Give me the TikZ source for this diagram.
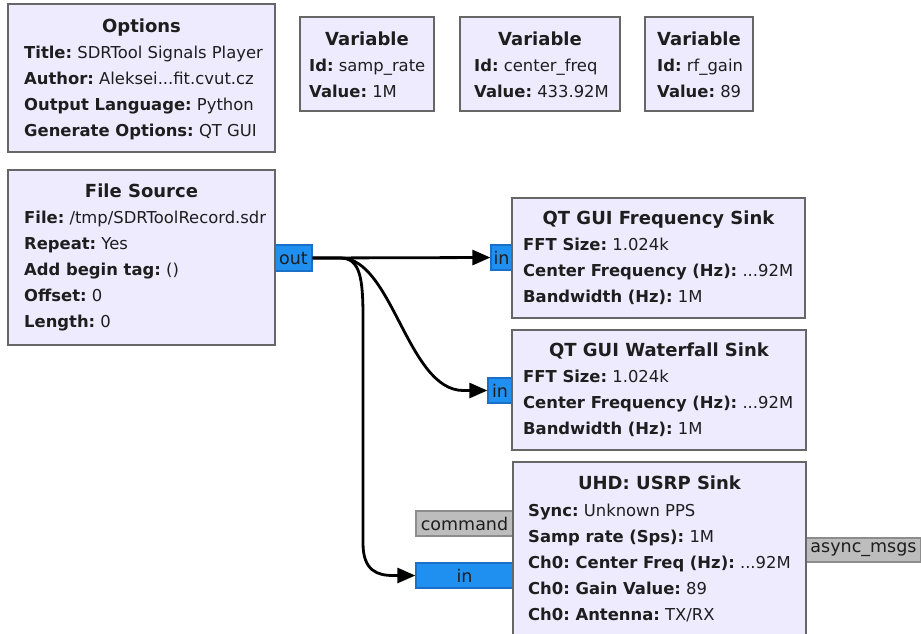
\documentclass[tikz,border=0pt]{standalone}
\usepackage{fontspec}
\setmainfont{DejaVu Sans}
\frenchspacing
\usetikzlibrary{arrows.meta,calc}
\definecolor{blkfill}{HTML}{EEEBFF}
\definecolor{blkdraw}{HTML}{666666}
\definecolor{portfill}{HTML}{2090F0}
\definecolor{portdraw}{HTML}{1A6FC8}
\definecolor{msgfill}{HTML}{BDBDBD}
\definecolor{msgdraw}{HTML}{8C8C8C}
\definecolor{txt}{HTML}{1E1E1E}
\newcommand{\pl}[2]{\textbf{#1:} #2}
\begin{document}
\begin{tikzpicture}[x=1pt,y=-1pt,
  block/.style={draw=blkdraw, fill=blkfill, line width=2.6pt, rectangle, inner sep=0pt},
  ttl/.style={anchor=base, font=\fontsize{18}{20}\selectfont\bfseries, inner sep=0pt, text=txt},
  prm/.style={anchor=base west, align=left, font=\fontsize{16.4}{25.8}\selectfont, inner sep=0pt, text=txt},
  port/.style={draw=portdraw, fill=portfill, line width=1.2pt, inner sep=0pt, font=\fontsize{17.5}{20}\selectfont, text=txt},
  msgport/.style={draw=msgdraw, fill=msgfill, line width=1.2pt, inner sep=0pt, font=\fontsize{17.5}{20}\selectfont, text=txt},
  conn/.style={line width=2.8pt, -{Triangle[length=18pt,width=15pt]}}
]
\useasboundingbox (0,0) rectangle (921,633);
\clip (0,0) rectangle (921,633);

% ports (drawn first, blocks overlap them)
\node[port, minimum width=37pt, minimum height=26pt] (out) at (293.5,258) {out};
\node[port, minimum width=21pt, minimum height=25pt] (fin) at (501.5,257.5) {in};
\node[port, minimum width=24pt, minimum height=25pt] (win) at (500,390.5) {in};
\node[msgport, minimum width=97pt, minimum height=25pt] (cmd) at (464.5,523.5) {command};
\node[port, minimum width=97pt, minimum height=25pt] (uin) at (464.5,575.5) {in};
\node[msgport, minimum width=115pt, minimum height=24pt] (amsg) at (863.5,550) {async\_msgs};

% Options (param node anchored at the baseline of its last line)
\node[block, minimum width=267pt, minimum height=148pt] (opt) at (141.5,78) {};
\node[ttl] (optt) at (141.5,32) {Options};
\node[prm] (optp) at (24,136) {\pl{Title}{SDRTool Signals Player}\\\pl{Author}{Aleksei...fit.cvut.cz}\\\pl{Output Language}{Python}\\\pl{Generate Options}{QT GUI}};

% Variables
\node[block, minimum width=134pt, minimum height=94pt] (v1) at (367,64) {};
\node[ttl] (v1t) at (367,45) {Variable};
\node[prm] (v1p) at (309,97) {\pl{Id}{samp\_rate}\\\pl{Value}{1M}};

\node[block, minimum width=160pt, minimum height=94pt] (v2) at (540,64) {};
\node[ttl] (v2t) at (540,45) {Variable};
\node[prm] (v2p) at (474,97) {\pl{Id}{center\_freq}\\\pl{Value}{433.92M}};

\node[block, minimum width=108pt, minimum height=94pt] (v3) at (699,64) {};
\node[ttl] (v3t) at (699,45) {Variable};
\node[prm] (v3p) at (657,97) {\pl{Id}{rf\_gain}\\\pl{Value}{89}};

% File Source
\node[block, minimum width=267pt, minimum height=175pt] (fs) at (141.5,257.5) {};
\node[ttl] (fst) at (141.5,197) {File Source};
\node[prm] (fsp) at (24,327) {\pl{File}{/tmp/SDRToolRecord.sdr}\\\pl{Repeat}{Yes}\\\pl{Add begin tag}{()}\\\pl{Offset}{0}\\\pl{Length}{0}};

% QT GUI Frequency Sink
\node[block, minimum width=293pt, minimum height=120pt] (fsk) at (658.5,258) {};
\node[ttl] (fskt) at (658.5,224) {QT GUI Frequency Sink};
\node[prm] (fskp) at (523,302) {\pl{FFT Size}{1.024k}\\\pl{Center Frequency (Hz)}{...92M}\\\pl{Bandwidth (Hz)}{1M}};

% QT GUI Waterfall Sink
\node[block, minimum width=294pt, minimum height=120pt] (wsk) at (659,390) {};
\node[ttl] (wskt) at (659,356) {QT GUI Waterfall Sink};
\node[prm] (wskp) at (523,434) {\pl{FFT Size}{1.024k}\\\pl{Center Frequency (Hz)}{...92M}\\\pl{Bandwidth (Hz)}{1M}};

% UHD: USRP Sink
\node[block, minimum width=293pt, minimum height=188pt] (usk) at (659.5,556) {};
\node[ttl] (uskt) at (659.5,489) {UHD: USRP Sink};
\node[prm] (uskp) at (528,620) {\pl{Sync}{Unknown PPS}\\\pl{Samp rate (Sps)}{1M}\\\pl{Ch0: Center Freq (Hz)}{...92M}\\\pl{Ch0: Gain Value}{89}\\\pl{Ch0: Antenna}{TX/RX}};

% connections
\coordinate (vtop) at (363,318);
\coordinate (vbot) at (363,543);
\draw[conn] (out.east) -- (fin.west);
\draw[conn] (out.east) -- ++(28,0) .. controls +(52,0) and +(-56,0) .. ($(win.west)+(-24,0)$) -- (win.west);
\draw[conn] (out.east) -- ++(28,0) .. controls +(20,0) and +(0,-38) .. (vtop) -- (vbot) .. controls +(0,28) and +(-16,0) .. ($(uin.west)+(-22,0)$) -- (uin.west);
\end{tikzpicture}
\end{document}
